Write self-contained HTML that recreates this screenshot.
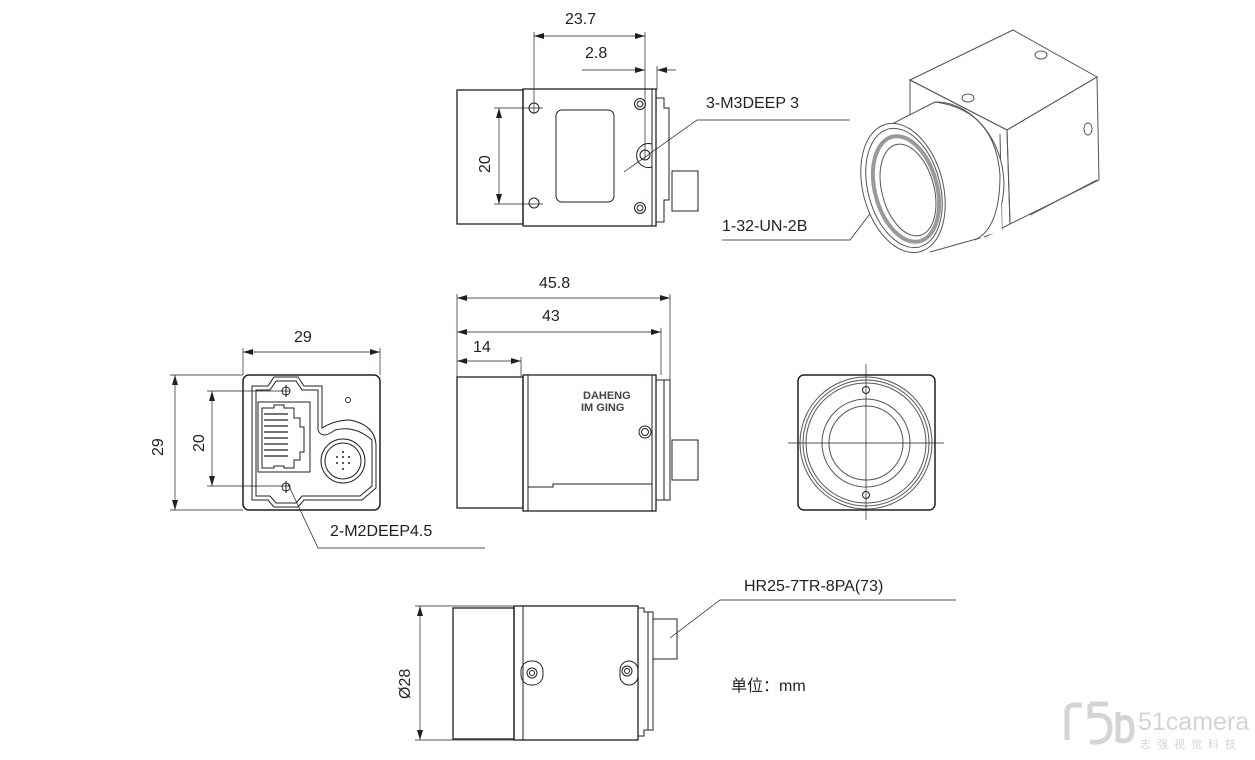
<!DOCTYPE html>
<html><head><meta charset="utf-8"><style>
html,body{margin:0;padding:0;background:#fff;}
svg{display:block;}
text{font-family:"Liberation Sans","Noto Sans CJK SC",sans-serif;fill:#231f20;}
</style></head><body>
<svg width="1255" height="760" viewBox="0 0 1255 760" xmlns="http://www.w3.org/2000/svg">
<defs>
<marker id="a" viewBox="0 0 10 6" refX="10" refY="3" markerWidth="10" markerHeight="6" orient="auto-start-reverse" markerUnits="userSpaceOnUse"><path d="M0,0 L10,3 L0,6 z" fill="#231f20"/></marker>
</defs>
<g fill="none" stroke="#231f20" stroke-width="1">
<!-- TOP VIEW -->
<rect x="457" y="90" width="66" height="134" stroke-width="1.3"/>
<rect x="523" y="89" width="133" height="137" stroke-width="1.3"/>
<line x1="652" y1="89" x2="652" y2="226"/>
<path d="M656 98 H664 V108 H669 V200 H664 V222 H656"/>
<rect x="672" y="171" width="26" height="40"/>
<rect x="556" y="110" width="58" height="92" rx="6"/>
<circle cx="534" cy="108" r="5"/><circle cx="534" cy="203" r="5"/>
<circle cx="640" cy="104" r="5.5"/><circle cx="640" cy="104" r="3"/>
<circle cx="640" cy="208" r="5.5"/><circle cx="640" cy="208" r="3"/>
<path d="M652 144 A12 12 0 1 0 652 167"/><circle cx="645" cy="155" r="5"/>
<line x1="534" y1="32" x2="534" y2="114" stroke-width="0.7"/>
<line x1="645" y1="32" x2="645" y2="160" stroke-width="0.7"/>
<line x1="657" y1="66" x2="657" y2="90" stroke-width="0.7"/>
<line x1="534" y1="36" x2="645" y2="36" stroke-width="0.7" marker-start="url(#a)" marker-end="url(#a)"/>
<line x1="582" y1="70" x2="645" y2="70" stroke-width="0.7" marker-end="url(#a)"/>
<line x1="676" y1="70" x2="657" y2="70" stroke-width="0.7" marker-end="url(#a)"/>
<line x1="494" y1="108" x2="543" y2="108" stroke-width="0.7"/>
<line x1="494" y1="204" x2="543" y2="204" stroke-width="0.7"/>
<line x1="499" y1="108" x2="499" y2="204" stroke-width="0.7" marker-start="url(#a)" marker-end="url(#a)"/>
<polyline points="850,120 697,120 624,172" stroke-width="0.7"/>
<polyline points="722,240 850,240 882,198" stroke-width="0.7"/>

<!-- ISO -->
<g stroke="#555" stroke-width="1">
<polygon points="910,80 1013,30 1097,77 1007,130"/>
<polygon points="1007,130 1097,77 1099,180 1010,224"/>
<polygon points="910,80 1007,130 1010,224 985,237 975,228 910,185"/>
<line x1="1000" y1="134" x2="1002" y2="230"/>
<path d="M935 102 A60 75 -15 0 1 985 235" fill="#fff"/>
<path d="M880 130 L935 102 L960 108 L1000 160 L1002 230 L985 236 L935 252 Z" fill="#fff" stroke="none"/>
<path d="M935 102 Q995 110 1000 175 Q1000 228 975 240"/>
<line x1="880" y1="130" x2="935" y2="102"/>
<line x1="930" y1="252" x2="980" y2="238"/>
<ellipse cx="903" cy="188" rx="40" ry="66" transform="rotate(-15 903 188)" fill="#fff"/>
<ellipse cx="904" cy="188" rx="36" ry="61" transform="rotate(-15 904 188)"/>
<ellipse cx="906" cy="189" rx="31" ry="54" transform="rotate(-15 906 189)" stroke="#999" stroke-width="4"/>
<ellipse cx="908" cy="190" rx="26" ry="47" transform="rotate(-15 908 190)"/>
<ellipse cx="968" cy="98" rx="6" ry="4"/><ellipse cx="1041" cy="55" rx="6" ry="4"/>
<ellipse cx="1088" cy="129" rx="4" ry="6"/>
<line x1="1030" y1="215" x2="1097" y2="180"/>
</g>

<!-- FRONT (connector) VIEW -->
<rect x="243" y="375" width="137" height="135" rx="6" stroke-width="1.5"/>
<path d="M256 390 H270 L276 381 H296 L302 390 H318 V430 Q322 440 335 430 Q355 425 372 440 V486 L360 496 H302 L296 503 H276 L270 496 H256 Z"/>
<path d="M252 386 H268 L274 377 H298 L304 386 H322 V428 Q335 420 350 420 Q375 425 376 445 V488 L362 500 H304 L298 507 H274 L268 500 H252 Z"/>
<rect x="258" y="402" width="52" height="70"/>
<path d="M262 408 H274 V405 H284 V408 H294 V418 H300 V427 H304 V452 H300 V460 H294 V468 H284 V466 H274 V468 H262 Z"/>
<g stroke-width="1.2"><line x1="264" y1="414" x2="288" y2="414"/><line x1="264" y1="420" x2="288" y2="420"/><line x1="264" y1="426" x2="288" y2="426"/><line x1="264" y1="432" x2="288" y2="432"/><line x1="264" y1="438" x2="288" y2="438"/><line x1="264" y1="444" x2="288" y2="444"/><line x1="264" y1="450" x2="288" y2="450"/><line x1="264" y1="456" x2="288" y2="456"/></g>
<circle cx="343" cy="461" r="22"/><circle cx="343" cy="461" r="18"/>
<circle cx="286" cy="391" r="4"/><line x1="286" y1="385" x2="286" y2="397"/>
<circle cx="286" cy="487" r="4"/><line x1="286" y1="481" x2="286" y2="493"/>
<circle cx="348" cy="400" r="2.5"/>
<g fill="#231f20" stroke="none"><circle cx="337" cy="457" r="1"/><circle cx="343" cy="457" r="1"/><circle cx="349" cy="457" r="1"/><circle cx="337" cy="463" r="1"/><circle cx="343" cy="463" r="1"/><circle cx="349" cy="463" r="1"/><circle cx="343" cy="452" r="1"/><circle cx="343" cy="469" r="1"/></g>
<line x1="243" y1="348" x2="243" y2="375" stroke-width="0.7"/><line x1="380" y1="348" x2="380" y2="375" stroke-width="0.7"/>
<line x1="243" y1="352" x2="380" y2="352" stroke-width="0.7" marker-start="url(#a)" marker-end="url(#a)"/>
<line x1="170" y1="375" x2="243" y2="375" stroke-width="0.7"/><line x1="170" y1="510" x2="243" y2="510" stroke-width="0.7"/>
<line x1="175" y1="375" x2="175" y2="510" stroke-width="0.7" marker-start="url(#a)" marker-end="url(#a)"/>
<line x1="207" y1="391" x2="290" y2="391" stroke-width="0.7"/><line x1="207" y1="486" x2="290" y2="486" stroke-width="0.7"/>
<line x1="212" y1="391" x2="212" y2="486" stroke-width="0.7" marker-start="url(#a)" marker-end="url(#a)"/>
<polyline points="288,484 318,548 485,548" stroke-width="0.7"/>

<!-- SIDE VIEW -->
<rect x="457" y="377" width="66" height="131" stroke-width="1.3"/>
<rect x="523" y="375" width="133" height="136" stroke-width="1.3"/>
<line x1="528" y1="375" x2="528" y2="511"/>
<line x1="652" y1="375" x2="652" y2="511"/>
<path d="M656 380 H670 V500 H656"/>
<path d="M664 380 V500"/>
<rect x="672" y="440" width="26" height="40"/>
<path d="M528 487 H553 V484 H652"/>
<circle cx="645" cy="432" r="6"/><circle cx="645" cy="432" r="3.5"/>
<line x1="457" y1="294" x2="457" y2="377" stroke-width="0.7"/>
<line x1="670" y1="294" x2="670" y2="380" stroke-width="0.7"/>
<line x1="661" y1="328" x2="661" y2="375" stroke-width="0.7"/>
<line x1="521" y1="357" x2="521" y2="377" stroke-width="0.7"/>
<line x1="457" y1="298" x2="670" y2="298" stroke-width="0.7" marker-start="url(#a)" marker-end="url(#a)"/>
<line x1="457" y1="332" x2="661" y2="332" stroke-width="0.7" marker-start="url(#a)" marker-end="url(#a)"/>
<line x1="457" y1="361" x2="521" y2="361" stroke-width="0.7" marker-start="url(#a)" marker-end="url(#a)"/>

<!-- FRONT LENS VIEW -->
<rect x="798" y="375" width="137" height="135" rx="6" stroke-width="1.5"/>
<circle cx="866" cy="443" r="66" stroke="#555"/>
<circle cx="866" cy="443" r="63" stroke="#555"/>
<circle cx="866" cy="443" r="60" stroke="#555"/>
<circle cx="866" cy="443" r="44" stroke="#555"/>
<circle cx="866" cy="443" r="37" stroke="#555"/>
<circle cx="866" cy="390" r="3.5"/><circle cx="866" cy="495" r="3.5"/>
<line x1="788" y1="443" x2="944" y2="443" stroke-width="0.7"/>
<line x1="866" y1="364" x2="866" y2="520" stroke-width="0.7"/>

<!-- BOTTOM VIEW -->
<rect x="453" y="608" width="61" height="131" stroke-width="1.3"/>
<rect x="514" y="606" width="124" height="134" stroke-width="1.3"/>
<line x1="523" y1="606" x2="523" y2="740"/>
<path d="M638 608 H644 V612 H653 V730 H644 V736 H638"/>
<line x1="648" y1="612" x2="648" y2="730"/>
<rect x="653" y="619" width="24" height="40"/>
<rect x="521" y="661" width="22" height="24" rx="10"/><circle cx="532" cy="673" r="5"/><circle cx="532" cy="673" r="2.5"/>
<rect x="620" y="661" width="18" height="24" rx="9"/><circle cx="627" cy="671" r="5"/><circle cx="627" cy="671" r="2.5"/>
<line x1="415" y1="606" x2="514" y2="606" stroke-width="0.7"/><line x1="415" y1="740" x2="514" y2="740" stroke-width="0.7"/>
<line x1="420" y1="606" x2="420" y2="740" stroke-width="0.7" marker-start="url(#a)" marker-end="url(#a)"/>
<polyline points="956,600 720,600 670,638" stroke-width="0.7"/>
</g>

<!-- Logo text -->
<text x="583" y="399" font-size="11" font-weight="bold" style="fill:#444">DAHENG</text>
<text x="581" y="411" font-size="11" font-weight="bold" style="fill:#444">IM  GING</text>

<!-- Labels -->
<g font-size="16">
<text x="565" y="24">23.7</text>
<text x="585" y="58">2.8</text>
<text x="706" y="108">3-M3DEEP 3</text>
<text x="722" y="231">1-32-UN-2B</text>
<text transform="translate(490,173) rotate(-90)">20</text>
<text x="539" y="288">45.8</text>
<text x="542" y="321">43</text>
<text x="473" y="352">14</text>
<text x="294" y="342">29</text>
<text transform="translate(163,456) rotate(-90)">29</text>
<text transform="translate(204,452) rotate(-90)">20</text>
<text x="330" y="536">2-M2DEEP4.5</text>
<text x="744" y="591">HR25-7TR-8PA(73)</text>
<text transform="translate(410,699) rotate(-90)">Ø28</text>
<text x="731" y="691">单位：mm</text>
</g>

<!-- watermark -->
<g fill="none" stroke="#d4d4d4" stroke-width="5">
<path d="M1067 740 V712 Q1067 705 1075 705 H1082"/>
<path d="M1090 704 H1108 M1090 704 V716 Q1110 712 1110 728 Q1110 744 1090 742"/>
<path d="M1118 712 V742 M1118 720 Q1132 712 1132 730 Q1132 744 1118 740"/>
</g>
<text x="1138" y="730" font-size="25" style="fill:#d4d4d4">51camera</text>
<text x="1140" y="748" font-size="11" letter-spacing="6" style="fill:#d4d4d4">志强视觉科技</text>
</svg>
</body></html>
